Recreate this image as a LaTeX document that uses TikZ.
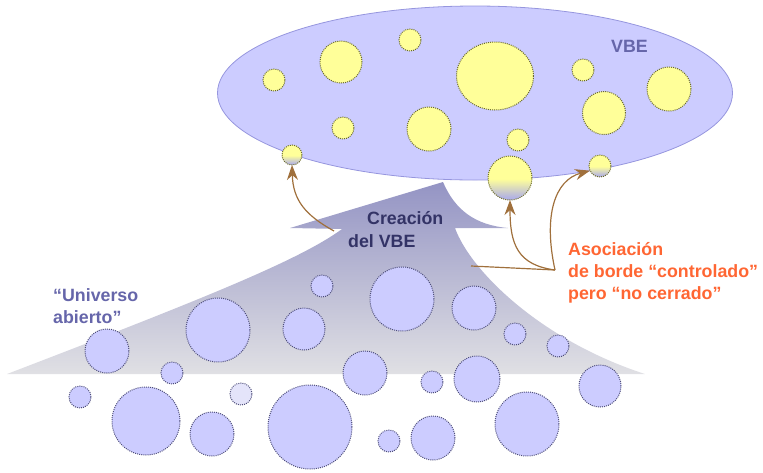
\documentclass[tikz,border=0pt]{standalone}
\usepackage{fontspec}
\setmainfont{Liberation Sans}
\usepackage{tikz}
\usetikzlibrary{arrows.meta,shapes.geometric}
\definecolor{vbsky}{RGB}{204,204,255}
\definecolor{vbrim}{RGB}{150,150,222}
\definecolor{vbyellow}{RGB}{255,255,153}
\definecolor{vbolive}{RGB}{105,105,45}
\definecolor{vbdusk}{RGB}{178,178,228}
\definecolor{vbslate}{RGB}{78,78,122}
\definecolor{vbpale}{RGB}{228,228,250}
\definecolor{vbbrown}{RGB}{160,112,60}
\definecolor{vborange}{RGB}{255,102,51}
\definecolor{vbnavy}{RGB}{51,51,102}
\definecolor{vbmauve}{RGB}{102,102,170}
\definecolor{vbtop}{RGB}{148,148,196}
\definecolor{vbbot}{RGB}{224,224,228}
\pgfdeclareverticalshading{vbfadeshade}{100bp}{color(0bp)=(vbdusk); color(28bp)=(vbdusk); color(49bp)=(vbyellow); color(100bp)=(vbyellow)}
\tikzset{
  vbspot/.style={circle, draw=vbolive, fill=vbyellow, line width=1pt, dash pattern=on 1pt off 1.1pt, inner sep=0pt, outer sep=0pt},
  vbfade/.style={vbspot, shade, shading=vbfadeshade},
  vbcell/.style={circle, draw=vbslate, fill=vbsky, line width=1pt, dash pattern=on 1pt off 1.1pt, inner sep=0pt, outer sep=0pt},
  vbline/.style={draw=vbbrown, line width=1.2pt},
  vbarr/.style={-{Stealth[length=15pt,width=11pt]}, draw=vbbrown, line width=1.2pt},
  vbtext/.style={font=\bfseries\fontsize{17.8}{22}\selectfont, inner sep=0pt, align=left}
}

\begin{document}
\begin{tikzpicture}[x=1pt, y=-1pt]
  \useasboundingbox (0,0) rectangle (763,472);
  % the VBE and its members
  \node[ellipse, draw=vbrim, fill=vbsky, line width=.8pt, minimum width=515pt, minimum height=174pt, inner sep=0pt] (vbe) at (475,93) {};
  \node[vbspot, minimum size=22pt] (y1) at (274,80) {};
  \node[vbspot, minimum size=42pt] (y2) at (341,62) {};
  \node[vbspot, minimum size=22pt] (y3) at (410,40) {};
  \node[vbspot, ellipse, minimum width=77pt, minimum height=68pt] (y4) at (495,76) {};
  \node[vbspot, minimum size=22pt] (y5) at (343,128) {};
  \node[vbspot, minimum size=44pt] (y6) at (429,129) {};
  \node[vbspot, minimum size=22pt] (y7) at (518,140) {};
  \node[vbfade, minimum size=44pt] (y8) at (510,178) {};
  \node[vbfade, minimum size=20pt] (y9) at (292,155) {};
  \node[vbfade, minimum size=22pt] (y10) at (600,166) {};
  \node[vbspot, minimum size=22pt] (y11) at (583,70) {};
  \node[vbspot, minimum size=43pt] (y12) at (604,113) {};
  \node[vbspot, minimum size=44pt] (y13) at (669,89) {};
  \node[vbtext, text=vbmauve, anchor=base west] (vbename) at (611,52) {VBE};
  % big arrow
  \shade[top color=vbtop, bottom color=vbbot] (7,374) .. controls (200,300) and (300,260) .. (342,229)
    -- (290,228) -- (443,182)
    .. controls (455,210) and (475,225) .. (508,228) -- (455,228)
    .. controls (470,270) and (540,340) .. (645,374) -- cycle;
  \node[vbtext, text=vbnavy, anchor=base west] (crea) at (367,224) {Creación};
  \node[vbtext, text=vbnavy, anchor=base west] (creb) at (348,247) {del VBE};
  % border association
  \coordinate (src9) at (334,231);
  \coordinate (srcr) at (471,266);
  \coordinate (junc) at (555,270);
  \draw[vbline] (srcr) -- (junc);
  \draw[vbarr] (junc) .. controls (518,265) and (510,245) .. (y8.south);
  \draw[vbarr] (junc) .. controls (543,215) and (555,180) .. (y10.205);
  \draw[vbarr] (src9) .. controls (305,215) and (293,200) .. (y9.south);
  \node[vbtext, text=vborange, anchor=base west] (asoc) at (568,299) {Asociación\\de borde “controlado”\\pero “no cerrado”};
  % open universe
  \node[vbcell, minimum size=44pt] (u1) at (107,351) {};
  \node[vbcell, minimum size=64pt] (u2) at (218,330) {};
  \node[vbcell, minimum size=42pt] (u3) at (304,329) {};
  \node[vbcell, minimum size=22pt] (u4) at (322,286) {};
  \node[vbcell, minimum size=22pt] (u5) at (172,373) {};
  \node[vbcell, minimum size=22pt] (u6) at (80,397) {};
  \node[vbcell, minimum size=68pt] (u7) at (146,421) {};
  \node[vbcell, fill=vbpale, minimum size=22pt] (u8) at (241,394) {};
  \node[vbcell, minimum size=44pt] (u9) at (212,434) {};
  \node[vbcell, minimum size=84pt] (u10) at (310,427) {};
  \node[vbcell, minimum size=64pt] (u11) at (402,299) {};
  \node[vbcell, minimum size=44pt] (u12) at (474,308) {};
  \node[vbcell, minimum size=22pt] (u13) at (515,334) {};
  \node[vbcell, minimum size=22pt] (u14) at (558,346) {};
  \node[vbcell, minimum size=44pt] (u15) at (365,373) {};
  \node[vbcell, minimum size=22pt] (u16) at (432,382) {};
  \node[vbcell, minimum size=46pt] (u17) at (477,379) {};
  \node[vbcell, minimum size=42pt] (u18) at (600,386) {};
  \node[vbcell, minimum size=64pt] (u19) at (527,424) {};
  \node[vbcell, minimum size=22pt] (u20) at (389,441) {};
  \node[vbcell, minimum size=44pt] (u21) at (433,438) {};
  \node[vbtext, text=vbmauve, anchor=base west] (univ) at (53,323) {“Universo\\abierto”};
\end{tikzpicture}
\end{document}
